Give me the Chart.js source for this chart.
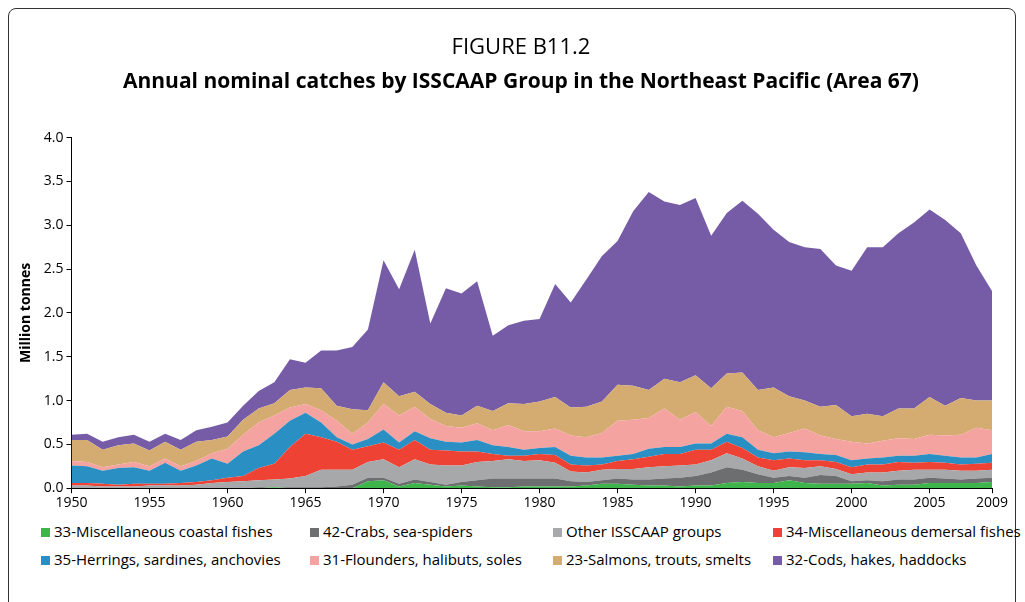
<!DOCTYPE html>
<html>
<head>
<meta charset="utf-8">
<script src="https://cdn.jsdelivr.net/npm/chart.js@4.4.1/dist/chart.umd.min.js"></script>
<style>
    body { margin: 0; background: #fff; }
    #page { position: relative; width: 1025px; height: 602px; overflow: hidden; font-family: "Open Sans", sans-serif; }
    #frame { position: absolute; left: 8px; top: 8px; width: 1008px; height: 640px; border: 1px solid #333; border-radius: 8px; box-sizing: border-box; }
    #chartBox { position: absolute; left: 0; top: 0; width: 1025px; height: 512px; }
    #legend { position: absolute; left: 0; top: 518px; width: 1025px; font-size: 15px; color: #000; }
    .item { position: absolute; white-space: nowrap; line-height: 20px; }
    .item span.box { display: inline-block; width: 9px; height: 9px; margin-right: 4px; vertical-align: 0px; }
</style>
</head>
<body>
<div id="page">
    <div id="frame"></div>
    <div id="chartBox"><canvas id="catchChart"></canvas></div>
    <div id="legend"></div>
</div>
<script>
// Years on the x axis
const years = [];
for (let y = 1950; y <= 2009; y++) years.push(y);
const xTicks = [1950, 1955, 1960, 1965, 1970, 1975, 1980, 1985, 1990, 1995, 2000, 2005, 2009];

// Million tonnes per year, one row per decade (1950s ... 2000s)
const coastal = [
    0, 0, 0, 0, 0, 0, 0, 0, 0, 0,
    0, 0, 0, 0.01, 0, 0, 0, 0, 0, 0.08,
    0.09, 0.02, 0.06, 0.04, 0.02, 0.03, 0.02, 0.01, 0.01, 0.02,
    0.02, 0.02, 0.02, 0.03, 0.05, 0.05, 0.04, 0.03, 0.03, 0.02,
    0.03, 0.03, 0.06, 0.07, 0.06, 0.06, 0.09, 0.06, 0.05, 0.05,
    0.05, 0.06, 0.03, 0.04, 0.04, 0.06, 0.06, 0.06, 0.06, 0.07
];
const crabs = [
    0, 0, 0, 0, 0, 0, 0, 0, 0, 0,
    0, 0, 0.01, 0, 0.01, 0.01, 0.01, 0.02, 0.04, 0.04,
    0.03, 0.03, 0.04, 0.03, 0.02, 0.04, 0.07, 0.10, 0.10, 0.09,
    0.09, 0.09, 0.06, 0.04, 0.04, 0.06, 0.06, 0.07, 0.08, 0.10,
    0.11, 0.15, 0.18, 0.14, 0.10, 0.06, 0.05, 0.06, 0.10, 0.09,
    0.03, 0.03, 0.05, 0.06, 0.06, 0.06, 0.05, 0.04, 0.05, 0.05
];
const otherGroups = [
    0.03, 0.03, 0.02, 0.02, 0.02, 0.03, 0.03, 0.03, 0.04, 0.06,
    0.07, 0.08, 0.08, 0.09, 0.10, 0.13, 0.20, 0.19, 0.17, 0.18,
    0.21, 0.19, 0.23, 0.20, 0.22, 0.19, 0.21, 0.20, 0.22, 0.20,
    0.21, 0.18, 0.11, 0.11, 0.12, 0.11, 0.12, 0.14, 0.14, 0.14,
    0.13, 0.14, 0.16, 0.13, 0.09, 0.08, 0.10, 0.11, 0.10, 0.08,
    0.08, 0.09, 0.10, 0.10, 0.11, 0.09, 0.10, 0.10, 0.09, 0.09
];
const demersal = [
    0.03, 0.03, 0.03, 0.02, 0.03, 0.02, 0.02, 0.03, 0.03, 0.03,
    0.05, 0.06, 0.14, 0.18, 0.36, 0.48, 0.37, 0.32, 0.23, 0.18,
    0.19, 0.20, 0.22, 0.17, 0.17, 0.16, 0.12, 0.08, 0.04, 0.06,
    0.07, 0.09, 0.08, 0.08, 0.06, 0.09, 0.11, 0.12, 0.14, 0.13,
    0.17, 0.12, 0.13, 0.12, 0.10, 0.12, 0.10, 0.09, 0.07, 0.08,
    0.08, 0.09, 0.09, 0.10, 0.08, 0.09, 0.08, 0.07, 0.08, 0.08
];
const herrings = [
    0.20, 0.19, 0.15, 0.19, 0.19, 0.15, 0.24, 0.14, 0.19, 0.25,
    0.16, 0.28, 0.26, 0.34, 0.30, 0.24, 0.17, 0.05, 0.06, 0.08,
    0.15, 0.08, 0.10, 0.13, 0.10, 0.10, 0.13, 0.10, 0.10, 0.07,
    0.07, 0.09, 0.10, 0.09, 0.08, 0.06, 0.06, 0.09, 0.08, 0.08,
    0.07, 0.07, 0.09, 0.12, 0.09, 0.08, 0.08, 0.09, 0.07, 0.08,
    0.08, 0.07, 0.08, 0.07, 0.08, 0.09, 0.08, 0.08, 0.07, 0.10
];
const flounders = [
    0.05, 0.05, 0.04, 0.04, 0.06, 0.05, 0.05, 0.05, 0.05, 0.06,
    0.17, 0.19, 0.26, 0.21, 0.15, 0.10, 0.14, 0.19, 0.12, 0.19,
    0.29, 0.31, 0.28, 0.22, 0.18, 0.17, 0.19, 0.17, 0.25, 0.21,
    0.19, 0.21, 0.23, 0.23, 0.28, 0.40, 0.39, 0.35, 0.44, 0.31,
    0.36, 0.20, 0.31, 0.30, 0.22, 0.18, 0.21, 0.27, 0.21, 0.18,
    0.21, 0.17, 0.19, 0.20, 0.19, 0.22, 0.23, 0.26, 0.34, 0.27
];
const salmons = [
    0.24, 0.25, 0.20, 0.22, 0.21, 0.18, 0.19, 0.19, 0.22, 0.15,
    0.14, 0.17, 0.16, 0.14, 0.20, 0.19, 0.25, 0.17, 0.28, 0.14,
    0.25, 0.22, 0.17, 0.17, 0.15, 0.14, 0.20, 0.22, 0.25, 0.31,
    0.34, 0.36, 0.32, 0.35, 0.36, 0.41, 0.39, 0.32, 0.34, 0.43,
    0.42, 0.43, 0.38, 0.44, 0.46, 0.57, 0.42, 0.32, 0.33, 0.39,
    0.29, 0.34, 0.28, 0.34, 0.35, 0.43, 0.34, 0.42, 0.31, 0.34
];
const cods = [
    0.06, 0.07, 0.09, 0.09, 0.10, 0.10, 0.09, 0.11, 0.13, 0.15,
    0.16, 0.16, 0.20, 0.24, 0.35, 0.28, 0.43, 0.63, 0.71, 0.92,
    1.39, 1.22, 1.62, 0.92, 1.42, 1.39, 1.42, 0.86, 0.89, 0.95,
    0.94, 1.29, 1.20, 1.45, 1.66, 1.64, 1.99, 2.26, 2.02, 2.02,
    2.02, 1.74, 1.83, 1.96, 2.01, 1.80, 1.76, 1.75, 1.80, 1.59,
    1.66, 1.90, 1.93, 2.00, 2.12, 2.14, 2.12, 1.88, 1.54, 1.25
];

// Bottom to top
const series = [
    { label: '33-Miscellaneous coastal fishes', data: coastal, color: '#3db54a' },
    { label: '42-Crabs, sea-spiders', data: crabs, color: '#6d6e70' },
    { label: 'Other ISSCAAP groups', data: otherGroups, color: '#a6a8aa' },
    { label: '34-Miscellaneous demersal fishes', data: demersal, color: '#ee4234' },
    { label: '35-Herrings, sardines, anchovies', data: herrings, color: '#2a8fc3' },
    { label: '31-Flounders, halibuts, soles', data: flounders, color: '#f5a3a0' },
    { label: '23-Salmons, trouts, smelts', data: salmons, color: '#d4ac72' },
    { label: '32-Cods, hakes, haddocks', data: cods, color: '#765ca7' }
];

const fontFamily = '"Open Sans", sans-serif';

function initializeChart() {
    const ctx = document.getElementById('catchChart').getContext('2d');
    return new Chart(ctx, {
        type: 'line',
        data: {
            datasets: series.map((s, i) => ({
                label: s.label,
                data: s.data.map((v, j) => ({ x: years[j], y: v })),
                backgroundColor: s.color,
                borderColor: s.color,
                borderWidth: 0,
                pointRadius: 0,
                tension: 0,
                fill: i === 0 ? 'origin' : '-1'
            }))
        },
        options: {
            responsive: true,
            maintainAspectRatio: false,
            animation: false,
            layout: {
                padding: { left: 18, right: 1, top: 0, bottom: 0 }
            },
            plugins: {
                legend: { display: false },
                tooltip: { enabled: false },
                title: {
                    display: true,
                    text: 'FIGURE B11.2',
                    color: '#000',
                    font: { family: fontFamily, size: 22, weight: 'normal' },
                    padding: { top: 35, bottom: 8 }
                },
                subtitle: {
                    display: true,
                    text: 'Annual nominal catches by ISSCAAP Group in the Northeast Pacific (Area 67)',
                    color: '#000',
                    font: { family: fontFamily, size: 21, weight: 'bold' },
                    padding: { top: 0, bottom: 43 }
                }
            },
            scales: {
                x: {
                    type: 'linear',
                    min: 1950,
                    max: 2009,
                    afterBuildTicks: axis => {
                        axis.ticks = xTicks.map(v => ({ value: v }));
                    },
                    ticks: {
                        autoSkip: false,
                        maxRotation: 0,
                        color: '#000',
                        padding: 1,
                        font: { family: fontFamily, size: 14 },
                        callback: v => String(v)
                    },
                    grid: { drawOnChartArea: false, drawTicks: true, tickLength: 5, color: '#000' },
                    border: { color: '#000', width: 1 }
                },
                y: {
                    stacked: true,
                    min: 0,
                    max: 4,
                    ticks: {
                        stepSize: 0.5,
                        color: '#000',
                        padding: 3,
                        font: { family: fontFamily, size: 14 },
                        callback: v => v.toFixed(1)
                    },
                    title: {
                        display: true,
                        text: 'Million tonnes',
                        color: '#000',
                        font: { family: fontFamily, size: 14, weight: 'bold' },
                        padding: { top: 0, bottom: 6 }
                    },
                    grid: { drawOnChartArea: false, drawTicks: true, tickLength: 5, color: '#000' },
                    border: { color: '#000', width: 1 }
                },
                // empty margin on the right so the titles sit where the original has them
                yRight: {
                    position: 'right',
                    min: 0,
                    max: 4,
                    ticks: { display: false },
                    grid: { display: false },
                    border: { display: false },
                    afterFit: axis => { axis.width = 32; }
                }
            }
        }
    });
}

// Legend laid out in four columns, two rows
function buildLegend() {
    const legend = document.getElementById('legend');
    const colX = [41, 310, 553, 773];
    const rowY = [3, 31];
    series.forEach((s, i) => {
        const item = document.createElement('div');
        item.className = 'item';
        item.style.left = colX[i % 4] + 'px';
        item.style.top = rowY[Math.floor(i / 4)] + 'px';
        item.innerHTML = '<span class="box" style="background:' + s.color + '"></span>' + s.label;
        legend.appendChild(item);
    });
}

initializeChart();
buildLegend();
</script>
</body>
</html>
